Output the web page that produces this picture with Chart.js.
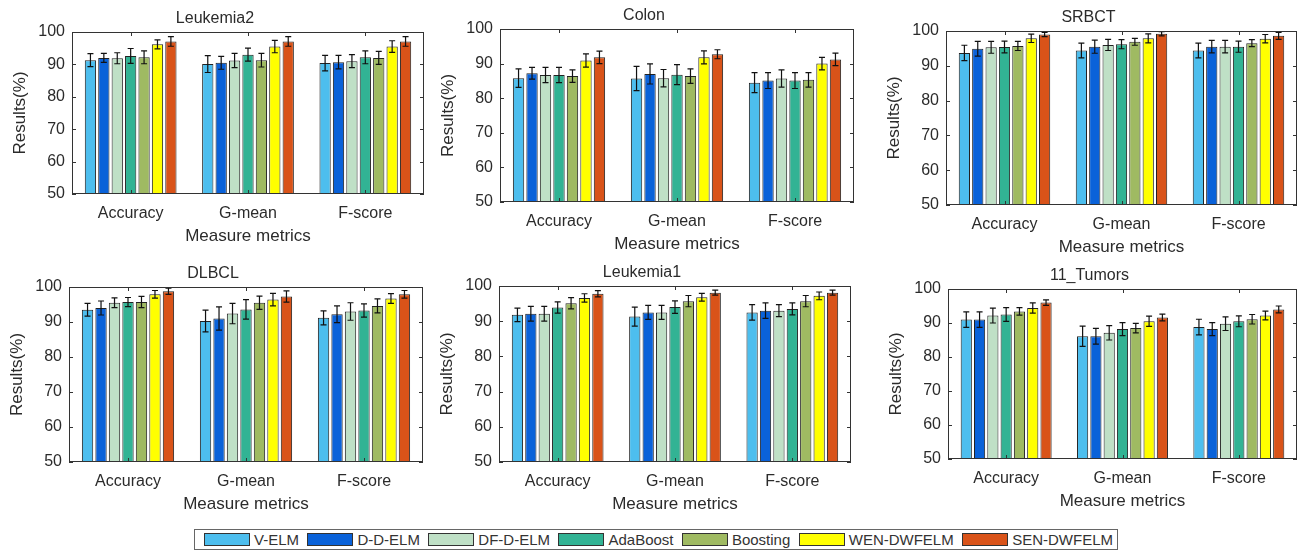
<!DOCTYPE html>
<html>
<head>
<meta charset="utf-8">
<script src="https://cdn.jsdelivr.net/npm/chart.js@4.4.0/dist/chart.umd.min.js"></script>
<style>
  body { margin: 0; background: #fff; width: 1302px; height: 553px; position: relative; overflow: hidden;
         font-family: "Liberation Sans", Arial, sans-serif; }
  .panel { position: absolute; }
  #legend { position: absolute; left: 194px; top: 529px; width: 924px; height: 21px; border: 1px solid #666;
            display: flex; align-items: center; justify-content: space-between; padding: 0 4px 0 9px;
            box-sizing: border-box; font-size: 15px; color: #333; }
  #legend .item { display: flex; align-items: center; }
  #legend .swatch { width: 46px; height: 13px; border: 1px solid #333; box-sizing: border-box; margin-right: 4px; }
</style>
</head>
<body>
<div id="legend"></div>
<script>
const metrics = ['Accuracy', 'G-mean', 'F-score'];
const methods = ['V-ELM', 'D-D-ELM', 'DF-D-ELM', 'AdaBoost', 'Boosting', 'WEN-DWFELM', 'SEN-DWFELM'];
const yTicks = [50, 60, 70, 80, 90, 100];

// one row per method: [Accuracy, G-mean, F-score]
const leukemia2Values = [[91.3, 90.1, 90.4], [92.0, 90.5, 90.7], [91.9, 91.2, 91.0], [92.6, 93.0, 92.2], [92.2, 91.3, 92.0], [96.2, 95.5, 95.5], [97.1, 97.1, 97.1]];
const leukemia2Errors = [[2.0, 2.6, 2.4], [1.4, 2.0, 2.1], [1.7, 2.2, 2.0], [2.3, 2.0, 2.0], [2.0, 2.1, 2.0], [1.4, 1.9, 1.8], [1.5, 1.5, 1.5]];

const colonValues = [[85.8, 85.7, 84.5], [87.2, 87.0, 85.1], [86.7, 85.8, 85.7], [86.7, 86.8, 85.1], [86.4, 86.4, 85.3], [90.9, 91.8, 90.0], [91.8, 92.7, 91.2]];
const colonErrors = [[2.7, 3.5, 2.9], [1.7, 2.9, 2.3], [2.2, 2.5, 2.5], [2.2, 2.9, 2.3], [1.8, 2.1, 2.1], [1.9, 1.9, 1.8], [1.8, 1.3, 1.8]];

const srbctValues = [[93.7, 94.4, 94.4], [94.9, 95.5, 95.5], [95.3, 96.0, 95.5], [95.4, 96.2, 95.5], [95.7, 96.9, 96.5], [97.9, 97.9, 97.8], [99.0, 99.2, 98.6]];
const srbctErrors = [[2.2, 2.1, 2.1], [2.1, 1.9, 1.8], [1.7, 1.6, 1.8], [1.7, 1.3, 1.6], [1.3, 1.0, 1.0], [1.2, 1.3, 1.2], [0.6, 0.6, 1.0]];

const dlbclValues = [[93.5, 90.3, 91.2], [94.0, 91.0, 92.2], [95.5, 92.4, 93.0], [95.7, 93.6, 93.3], [95.7, 95.5, 94.6], [97.9, 96.4, 96.7], [98.8, 97.3, 97.9]];
const dlbclErrors = [[1.8, 3.1, 2.0], [2.0, 3.3, 2.4], [1.4, 2.9, 2.5], [1.3, 2.8, 1.9], [1.6, 1.9, 2.0], [1.1, 1.8, 1.4], [0.9, 1.6, 1.1]];

const leukemia1Values = [[91.8, 91.3, 92.5], [92.1, 92.5, 93.0], [92.1, 92.5, 93.0], [93.9, 94.0, 93.5], [95.1, 95.7, 95.7], [96.6, 96.8, 97.2], [97.8, 98.1, 98.1]];
const leukemia1Errors = [[1.9, 2.7, 2.2], [2.1, 2.0, 2.2], [2.1, 2.0, 1.7], [1.6, 1.8, 1.7], [1.6, 1.6, 1.6], [1.2, 1.1, 1.1], [0.9, 0.7, 0.7]];

const tumorsValues = [[91.0, 86.1, 88.8], [91.0, 86.1, 88.2], [92.2, 87.1, 89.8], [92.5, 88.2, 90.5], [93.4, 88.5, 91.1], [94.4, 90.5, 92.2], [96.0, 91.6, 94.0]];
const tumorsErrors = [[2.3, 3.0, 2.3], [2.3, 2.3, 1.9], [2.2, 2.1, 2.0], [2.0, 1.9, 1.6], [1.1, 1.4, 1.4], [1.5, 1.5, 1.3], [0.8, 1.0, 1.0]];

const colors = ['#4dbeee', '#0a62d9', '#bfe0c6', '#32b394', '#9fba62', '#ffff00', '#d95319'];
const textColor = '#2b2b2b';
const fontFamily = '"Liberation Sans", Arial, sans-serif';

// plot area rectangles [left, top, right, bottom]
const panels = [
  { title: 'Leukemia2', values: leukemia2Values, errors: leukemia2Errors, box: [72, 32, 424, 194] },
  { title: 'Colon', values: colonValues, errors: colonErrors, box: [500, 29, 854, 202] },
  { title: 'SRBCT', values: srbctValues, errors: srbctErrors, box: [946, 31, 1297, 205] },
  { title: 'DLBCL', values: dlbclValues, errors: dlbclErrors, box: [69, 287, 423, 462] },
  { title: 'Leukemia1', values: leukemia1Values, errors: leukemia1Errors, box: [499, 286, 851, 462] },
  { title: '11_Tumors', values: tumorsValues, errors: tumorsErrors, box: [948, 289, 1297, 459] }
];

const Y_AXIS_W = 66, TITLE_H = 30, X_AXIS_H = 53, RIGHT_PAD = 4;

const errorBars = {
  id: 'errorBars',
  afterDatasetsDraw(chart) {
    const ctx = chart.ctx, y = chart.scales.y;
    ctx.save();
    ctx.strokeStyle = '#111';
    ctx.lineWidth = 1.2;
    chart.data.datasets.forEach((ds, i) => {
      chart.getDatasetMeta(i).data.forEach((bar, j) => {
        const hi = y.getPixelForValue(ds.data[j] + ds.errors[j]);
        const lo = y.getPixelForValue(ds.data[j] - ds.errors[j]);
        ctx.beginPath();
        ctx.moveTo(bar.x, hi); ctx.lineTo(bar.x, lo);
        ctx.moveTo(bar.x - 3, hi); ctx.lineTo(bar.x + 3, hi);
        ctx.moveTo(bar.x - 3, lo); ctx.lineTo(bar.x + 3, lo);
        ctx.stroke();
      });
    });
    ctx.restore();
  }
};

// matlab style box with inward ticks on all four sides
const frame = {
  id: 'frame',
  afterDraw(chart) {
    const ctx = chart.ctx, a = chart.chartArea, x = chart.scales.x, y = chart.scales.y;
    ctx.save();
    ctx.strokeStyle = '#333';
    ctx.lineWidth = 1;
    ctx.strokeRect(Math.round(a.left) + 0.5, Math.round(a.top) + 0.5, Math.round(a.right - a.left) - 1, Math.round(a.bottom - a.top) - 1);
    ctx.beginPath();
    y.ticks.forEach(t => {
      const py = Math.round(y.getPixelForValue(t.value)) + 0.5;
      ctx.moveTo(a.left, py); ctx.lineTo(a.left + 4, py);
      ctx.moveTo(a.right, py); ctx.lineTo(a.right - 4, py);
    });
    x.ticks.forEach((t, i) => {
      const px = Math.round(x.getPixelForTick(i)) + 0.5;
      ctx.moveTo(px, a.top); ctx.lineTo(px, a.top + 4);
      ctx.moveTo(px, a.bottom); ctx.lineTo(px, a.bottom - 4);
    });
    ctx.stroke();
    ctx.restore();
  }
};

panels.forEach(p => {
  const [L, T, R, B] = p.box;
  const w = R - L + Y_AXIS_W + RIGHT_PAD;
  const h = B - T + TITLE_H + X_AXIS_H;
  const div = document.createElement('div');
  div.className = 'panel';
  div.style.left = (L - Y_AXIS_W) + 'px';
  div.style.top = (T - TITLE_H) + 'px';
  const canvas = document.createElement('canvas');
  canvas.width = w;
  canvas.height = h;
  div.appendChild(canvas);
  document.body.appendChild(div);

  new Chart(canvas, {
    type: 'bar',
    data: {
      labels: metrics,
      datasets: methods.map((m, i) => ({
        label: m,
        data: p.values[i],
        errors: p.errors[i],
        backgroundColor: colors[i],
        borderColor: '#222',
        borderWidth: 1,
        categoryPercentage: 0.8,
        barPercentage: 0.84
      }))
    },
    options: {
      responsive: false,
      animation: false,
      devicePixelRatio: 1,
      layout: { padding: { top: 0, right: RIGHT_PAD, bottom: 0, left: 0 } },
      plugins: {
        legend: { display: false },
        tooltip: { enabled: false },
        title: {
          display: true, text: p.title, color: textColor,
          font: { family: fontFamily, size: 16, weight: 'normal', lineHeight: 1 },
          padding: { top: 9, bottom: 5 }
        }
      },
      scales: {
        x: {
          grid: { display: false, drawTicks: false },
          border: { display: false },
          ticks: { color: textColor, font: { family: fontFamily, size: 16 }, padding: 10 },
          title: { display: true, text: 'Measure metrics', color: textColor, font: { family: fontFamily, size: 17 }, padding: 0 },
          afterFit(s) { s.height = X_AXIS_H; }
        },
        y: {
          min: yTicks[0], max: yTicks[yTicks.length - 1],
          afterBuildTicks(s) { s.ticks = yTicks.map(v => ({ value: v })); },
          grid: { display: false, drawTicks: false },
          border: { display: false },
          ticks: { color: textColor, font: { family: fontFamily, size: 16 }, padding: 7 },
          title: { display: true, text: 'Results(%)', color: textColor, font: { family: fontFamily, size: 17 }, padding: { top: 4, bottom: 0 } },
          afterFit(s) { s.width = Y_AXIS_W; }
        }
      }
    },
    plugins: [errorBars, frame]
  });
});

const legend = document.getElementById('legend');
methods.forEach((m, i) => {
  const item = document.createElement('div');
  item.className = 'item';
  const sw = document.createElement('span');
  sw.className = 'swatch';
  sw.style.background = colors[i];
  const lbl = document.createElement('span');
  lbl.textContent = m;
  item.appendChild(sw);
  item.appendChild(lbl);
  legend.appendChild(item);
});
</script>
</body>
</html>
